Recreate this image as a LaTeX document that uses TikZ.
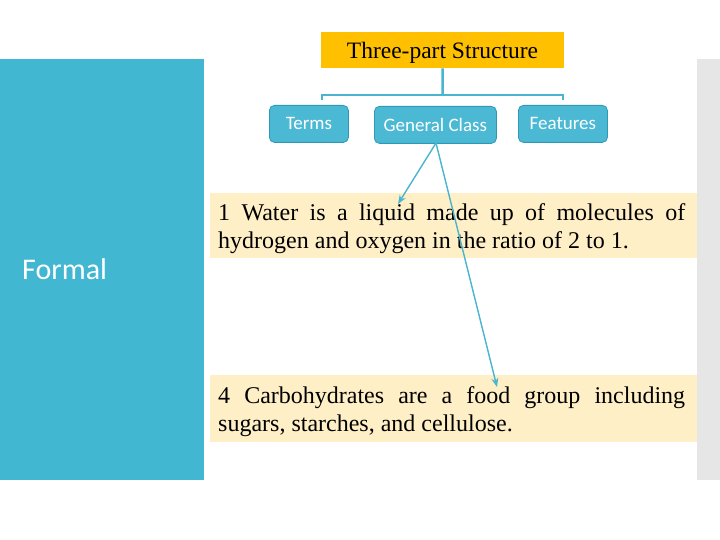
\documentclass[tikz,border=0pt]{standalone}
\usepackage{fontspec}
\setmainfont{Liberation Serif}
\newfontfamily\boxfont{Carlito}
\usetikzlibrary{arrows.meta}
\hyphenpenalty=10000
\exhyphenpenalty=10000
\definecolor{panelblue}{HTML}{41B7D2}
\definecolor{boxblue}{HTML}{4BB9D4}
\definecolor{boxedge}{HTML}{2E9AB6}
\definecolor{linkblue}{HTML}{4BB5CF}
\definecolor{titleorange}{HTML}{FFC000}
\definecolor{notecream}{HTML}{FEEFC7}
\definecolor{barsgray}{HTML}{E6E6E6}
\tikzset{
  termbox/.style={draw=boxedge, line width=0.8pt, fill=boxblue, rounded corners=5pt,
    inner sep=0pt, anchor=north west},
  termtext/.style={text=white, font=\boxfont\fontsize{19}{22}\selectfont, inner sep=0pt},
  notetext/.style={anchor=north west, inner sep=0pt, text width=467pt, align=justify,
    font=\fontsize{24}{28}\selectfont},
  link/.style={draw=linkblue, line width=2.5pt},
  pointer/.style={draw=linkblue, line width=1.4pt, -{Stealth[length=9pt,width=7pt]}}
}
\begin{document}
\begin{tikzpicture}[x=1pt,y=-1pt]
\useasboundingbox (0,0) rectangle (720,540);
\fill[white] (0,0) rectangle (720,540);
% side panels
\fill[panelblue] (0,59) rectangle (204,480);
\fill[barsgray] (697,59) rectangle (720,480);
\node[text=white, font=\boxfont\fontsize{30}{34}\selectfont, anchor=west, inner sep=0pt] (formal) at (22,269) {Formal};
% cream boxes
\fill[notecream] (210,193) rectangle (697,258);
\fill[notecream] (210,375) rectangle (697,442);
\node[notetext] (n1) at (218,203) {1 Water is a liquid made up of molecules of hydrogen and oxygen in the ratio of 2 to 1.};
\node[notetext] (n4) at (218,386) {4 Carbohydrates are a food group including sugars, starches, and cellulose.};
% title
\node[fill=titleorange, minimum width=243pt, minimum height=36pt, inner sep=0pt,
  anchor=north west] (title) at (321,32) {};
\node[font=\fontsize{23.5}{28}\selectfont, inner sep=0pt, anchor=base] (titletext) at (442.5,59) {Three-part Structure};
% term boxes
\node[termbox, minimum width=79pt, minimum height=37pt] (terms) at (269,105) {};
\node[termtext] at (terms.center) {Terms};
\node[termbox, minimum width=122pt, minimum height=37pt] (general) at (374,106) {};
\node[termtext] at (general.center) {General Class};
\node[termbox, minimum width=89pt, minimum height=37pt] (features) at (518,105) {};
\node[termtext] at (features.center) {Features};
% bracket connector
\coordinate (mid) at (442.5,95);
\coordinate (bl) at (322,100);
\coordinate (br) at (563,100);
\draw[link] (title.south) -- (mid);
\draw[link] (bl) -- (322,95) -- (563,95) -- (br);
% pointers
\coordinate (p0) at (436,143);
\coordinate (p1) at (398,204);
\coordinate (p4) at (497,387);
\draw[pointer] (p0) -- (p1);
\draw[pointer] (p0) -- (p4);
\end{tikzpicture}
\end{document}
